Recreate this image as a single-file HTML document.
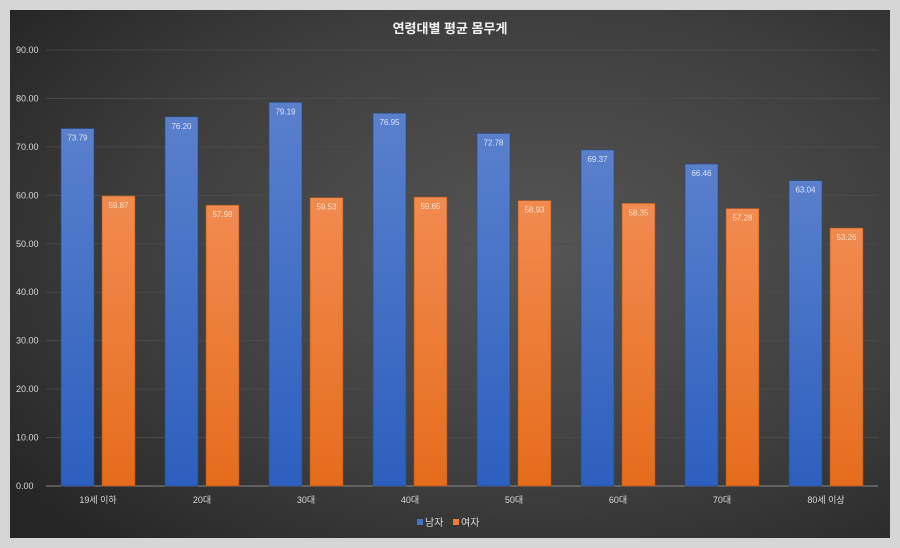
<!DOCTYPE html>
<html><head><meta charset="utf-8"><style>
body{margin:0;background:#d6d6d6;width:900px;height:548px;overflow:hidden;font-family:"Liberation Sans","Noto Sans CJK KR",sans-serif}
</style></head><body>
<svg width="900" height="548" style="position:absolute;left:0;top:0">
<defs>
<radialGradient id="bg" cx="0.6" cy="0.45" r="0.75">
<stop offset="0" stop-color="#555"/><stop offset="0.6" stop-color="#3e3e3e"/><stop offset="1" stop-color="#262626"/>
</radialGradient>
<linearGradient id="gb" x1="0" y1="0" x2="0" y2="1"><stop offset="0" stop-color="#5a80cc"/><stop offset="1" stop-color="#2c5fbf"/></linearGradient>
<linearGradient id="go" x1="0" y1="0" x2="0" y2="1"><stop offset="0" stop-color="#f18b50"/><stop offset="1" stop-color="#e66c1c"/></linearGradient>
</defs>
<rect x="10" y="10" width="880" height="528" fill="url(#bg)"/>
<text x="450" y="33" fill="#f2f2f2" font-size="13" font-weight="bold" text-anchor="middle">연령대별 평균 몸무게</text>
<g id="grid"></g><g id="bars"></g>
<g>
<rect x="417" y="519" width="6" height="6" fill="#4472c4"/>
<text x="425" y="526" fill="#d9d9d9" font-size="10">남자</text>
<rect x="453" y="519" width="6" height="6" fill="#ed7d31"/>
<text x="461" y="526" fill="#d9d9d9" font-size="10">여자</text>
</g>
</svg>
<script>
const categories=["19세 이하","20대","30대","40대","50대","60대","70대","80세 이상"];
const male=[73.79,76.20,79.19,76.95,72.78,69.37,66.46,63.04];
const female=[59.87,57.98,59.53,59.65,58.93,58.35,57.28,53.26];
const ticks=[0,10,20,30,40,50,60,70,80,90];
const NS="http://www.w3.org/2000/svg";
const x0=46,x1=878,yTop=50,yBot=486,yMax=90;
const y=v=>yBot-(v/yMax)*(yBot-yTop);
const band=(x1-x0)/categories.length;
const grid=document.getElementById('grid'),bars=document.getElementById('bars');
function mk(tag,attrs,parent){const e=document.createElementNS(NS,tag);for(const k in attrs)e.setAttribute(k,attrs[k]);parent.appendChild(e);return e;}
ticks.forEach(t=>{
  const l=mk('line',{x1:x0,x2:x1,y1:y(t),y2:y(t),stroke:t===0?'#8a8a8a':'#4c4c4c','stroke-width':t===0?1:0.8},grid);
  
  
  const tx=mk('text',{x:16,y:y(t)+3,fill:'#d9d9d9','font-size':9},grid);
  tx.textContent=t.toFixed(2);
  
  
});
const bw=33,gap=8;
categories.forEach((c,i)=>{
  const cx=x0+band*(i+0.5);
  const bx=cx-gap/2-bw, ox=cx+gap/2;
  const b=mk('rect',{x:bx,y:y(male[i]),width:bw,height:yBot-y(male[i]),fill:'url(#gb)',stroke:'#2a4a8a','stroke-width':0.6},bars);
  
  
  const o=mk('rect',{x:ox,y:y(female[i]),width:bw,height:yBot-y(female[i]),fill:'url(#go)',stroke:'#a8521a','stroke-width':0.6},bars);
  
  
  const lm=mk('text',{x:bx+bw/2,y:y(male[i])+12,fill:'#dde4f5','font-size':8,'text-anchor':'middle'},bars);
  lm.textContent=male[i].toFixed(2);
  
  
  const lf=mk('text',{x:ox+bw/2,y:y(female[i])+12,fill:'#fde0cc','font-size':8,'text-anchor':'middle'},bars);
  lf.textContent=female[i].toFixed(2);
  
  
  const cl=mk('text',{x:cx,y:503,fill:'#d9d9d9','font-size':9,'text-anchor':'middle'},bars);
  cl.textContent=c;
  
  
});
</script>
</body></html>
